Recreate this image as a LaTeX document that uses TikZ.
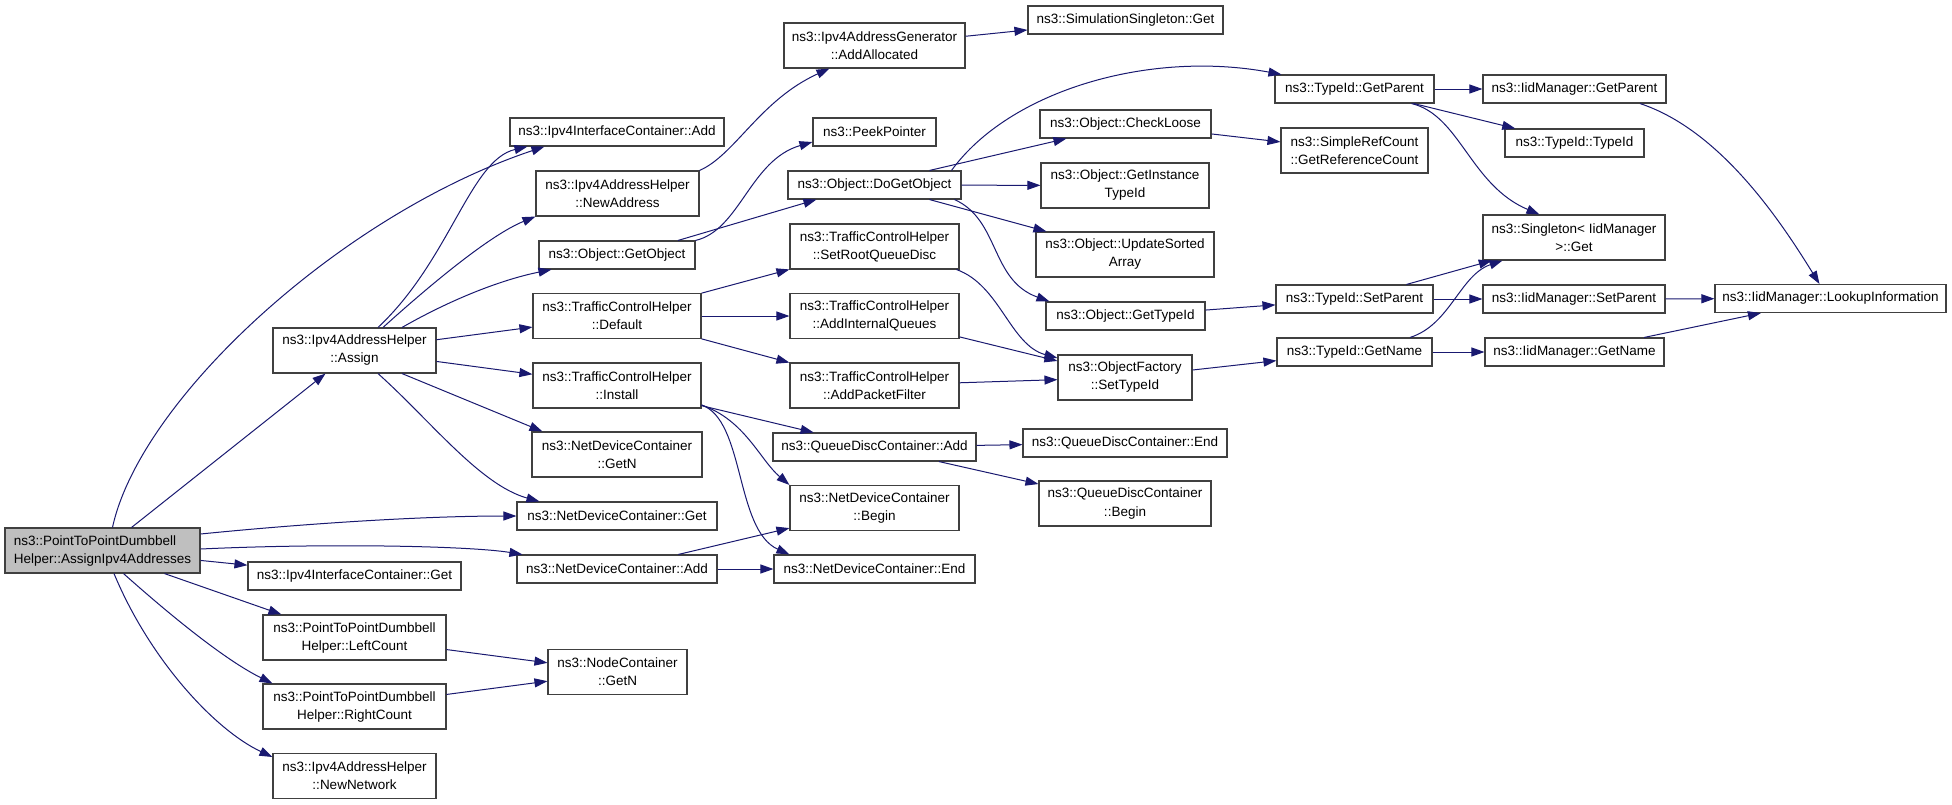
\documentclass[tikz,border=0pt]{standalone}
\usepackage{fontspec}
\setmainfont{Liberation Sans}
\usepackage{tikz}
\usetikzlibrary{arrows.meta}

\definecolor{navyedge}{HTML}{191970}
\definecolor{rootgray}{HTML}{BFBFBF}
\definecolor{boxline}{HTML}{404040}

\begin{document}
\begin{tikzpicture}[
    x=1pt, y=-1pt,
    fn/.style={rectangle, draw=boxline, line width=1.1pt, fill=white,
               inner sep=0pt, minimum height=28pt, align=center,
               font=\fontsize{13.5}{18}\selectfont},
    fn2/.style={fn, minimum height=45pt},
    rootfn/.style={fn2, fill=rootgray, align=left},
    call/.style={draw=navyedge, line width=1pt, -{Triangle[length=13pt,width=9pt]}}
]

\path[use as bounding box, fill=white] (0,0) rectangle (1952,804);

%% --- Radacina si apelurile directe ---
\node[rootfn, minimum width=195pt] (root)      at (102.5,550.5) {ns3::PointToPointDumbbell\\Helper::AssignIpv4Addresses};
\node[fn2, minimum width=163pt]    (assign)    at (354.5,350.5) {ns3::Ipv4AddressHelper\\::Assign};
\node[fn,  minimum width=213pt]    (iic_get)   at (354.5,576)   {ns3::Ipv4InterfaceContainer::Get};
\node[fn2, minimum width=183pt]    (left_cnt)  at (354.5,637.5) {ns3::PointToPointDumbbell\\Helper::LeftCount};
\node[fn2, minimum width=183pt]    (right_cnt) at (354.5,706.5) {ns3::PointToPointDumbbell\\Helper::RightCount};
\node[fn2, minimum width=163pt]    (new_net)   at (354.5,776)   {ns3::Ipv4AddressHelper\\::NewNetwork};

%% --- Coloana 3 ---
\node[fn,  minimum width=214pt] (iic_add)     at (617,132)   {ns3::Ipv4InterfaceContainer::Add};
\node[fn2, minimum width=163pt] (new_addr)    at (617.5,193.5) {ns3::Ipv4AddressHelper\\::NewAddress};
\node[fn,  minimum width=156pt] (get_obj)     at (617,255)   {ns3::Object::GetObject};
\node[fn2, minimum width=168pt] (tch_default) at (617,316)   {ns3::TrafficControlHelper\\::Default};
\node[fn2, minimum width=168pt] (tch_install) at (617,385.5) {ns3::TrafficControlHelper\\::Install};
\node[fn2, minimum width=170pt] (ndc_getn)    at (617,454.5) {ns3::NetDeviceContainer\\::GetN};
\node[fn,  minimum width=200pt] (ndc_get)     at (617,516)   {ns3::NetDeviceContainer::Get};
\node[fn,  minimum width=200pt] (ndc_add)     at (617,569)   {ns3::NetDeviceContainer::Add};
\node[fn2, minimum width=139pt] (node_getn)   at (617.5,672) {ns3::NodeContainer\\::GetN};

%% --- Coloana 4 ---
\node[fn2, minimum width=181pt] (add_alloc)  at (874.5,45.5)  {ns3::Ipv4AddressGenerator\\::AddAllocated};
\node[fn,  minimum width=123pt] (peek)       at (874.5,132)   {ns3::PeekPointer};
\node[fn,  minimum width=173pt] (do_get_obj) at (874.5,185)   {ns3::Object::DoGetObject};
\node[fn2, minimum width=169pt] (set_root)   at (874.5,246.5) {ns3::TrafficControlHelper\\::SetRootQueueDisc};
\node[fn2, minimum width=169pt] (add_intq)   at (874.5,316)   {ns3::TrafficControlHelper\\::AddInternalQueues};
\node[fn2, minimum width=169pt] (add_pktf)   at (874.5,385.5) {ns3::TrafficControlHelper\\::AddPacketFilter};
\node[fn,  minimum width=203pt] (qdc_add)    at (874.5,447)   {ns3::QueueDiscContainer::Add};
\node[fn2, minimum width=169pt] (ndc_begin)  at (874.5,508)   {ns3::NetDeviceContainer\\::Begin};
\node[fn,  minimum width=201pt] (ndc_end)    at (874.5,569)   {ns3::NetDeviceContainer::End};

%% --- Coloana 5 ---
\node[fn,  minimum width=195pt] (sim_get)      at (1125.5,20)  {ns3::SimulationSingleton::Get};
\node[fn,  minimum width=171pt] (check_loose)  at (1125.5,124) {ns3::Object::CheckLoose};
\node[fn2, minimum width=168pt] (get_inst_tid) at (1125,185.5) {ns3::Object::GetInstance\\TypeId};
\node[fn2, minimum width=178pt] (upd_sorted)   at (1125,254.5) {ns3::Object::UpdateSorted\\Array};
\node[fn,  minimum width=159pt] (obj_get_tid)  at (1125.5,316) {ns3::Object::GetTypeId};
\node[fn2, minimum width=134pt] (of_set_tid)   at (1125,377.5) {ns3::ObjectFactory\\::SetTypeId};
\node[fn,  minimum width=204pt] (qdc_end)      at (1125,443)   {ns3::QueueDiscContainer::End};
\node[fn2, minimum width=172pt] (qdc_begin)    at (1125,503.5) {ns3::QueueDiscContainer\\::Begin};

%% --- Coloana 6 ---
\node[fn,  minimum width=159pt] (tid_get_parent) at (1354.5,89)    {ns3::TypeId::GetParent};
\node[fn2, minimum width=147pt] (src_get_ref)    at (1354.5,150.5) {ns3::SimpleRefCount\\::GetReferenceCount};
\node[fn,  minimum width=157pt] (tid_set_parent) at (1354.5,299)   {ns3::TypeId::SetParent};
\node[fn,  minimum width=155pt] (tid_get_name)   at (1354.5,352)   {ns3::TypeId::GetName};

%% --- Coloana 7 si 8 ---
\node[fn,  minimum width=183pt] (iid_get_parent) at (1574.5,89)  {ns3::IidManager::GetParent};
\node[fn,  minimum width=139pt] (tid_typeid)     at (1574.5,143) {ns3::TypeId::TypeId};
\node[fn2, minimum width=182pt] (singleton_get)  at (1574,237.5) {ns3::Singleton< IidManager\\>::Get};
\node[fn,  minimum width=182pt] (iid_set_parent) at (1574,299)   {ns3::IidManager::SetParent};
\node[fn,  minimum width=179pt] (iid_get_name)   at (1574.5,352) {ns3::IidManager::GetName};
\node[fn,  minimum width=231pt] (lookup)         at (1830.5,298.5) {ns3::IidManager::LookupInformation};

%% --- Apeluri din radacina ---
\draw[call] ([xshift=10pt]root.north) .. controls (140,400) and (340,215) .. ([xshift=35pt]iic_add.south west);
\draw[call] (root) -- (assign);
\draw[call] ([yshift=16.5pt]root.east) .. controls (300,524) and (420,516) .. (ndc_get.west);
\draw[call] ([yshift=1.5pt]root.east) .. controls (330,543) and (470,546) .. ([xshift=6pt]ndc_add.north west);
\draw[call] (root) -- (iic_get);
\draw[call] ([xshift=62pt]root.south) -- ([xshift=19pt]left_cnt.north west);
\draw[call] ([xshift=21pt]root.south) .. controls (170,615) and (225,660) .. ([xshift=10pt]right_cnt.north west);
\draw[call] ([xshift=11.5pt]root.south) .. controls (150,660) and (215,730) .. ([yshift=19pt]new_net.west);

%% --- Apeluri din Assign ---
\draw[call] ([xshift=23.5pt]assign.north) .. controls (450,260) and (470,160) .. ([xshift=18pt]iic_add.south west);
\draw[call] ([xshift=28.5pt]assign.north) .. controls (430,285) and (490,235) .. (new_addr.south west);
\draw[call] ([xshift=47.5pt]assign.north) .. controls (450,300) and (500,280) .. ([xshift=13pt]get_obj.south west);
\draw[call] (assign) -- (tch_default);
\draw[call] (assign) -- (tch_install);
\draw[call] ([xshift=47.5pt]assign.south) -- ([xshift=11pt]ndc_getn.north west);
\draw[call] ([xshift=23.5pt]assign.south) .. controls (430,420) and (480,485) .. ([xshift=23pt]ndc_get.north west);

%% --- Coloana 3 -> 4 ---
\draw[call] (new_addr.north east) .. controls (735,155) and (760,100) .. ([xshift=46pt]add_alloc.south west);
\draw[call] (add_alloc) -- (sim_get);
\draw[call] (get_obj.north east) .. controls (740,230) and (750,160) .. ([yshift=-10pt]peek.west);
\draw[call] ([xshift=61pt]get_obj.north) -- ([xshift=29pt]do_get_obj.south west);
\draw[call] (tch_default) -- (set_root);
\draw[call] (tch_default) -- (add_intq);
\draw[call] (tch_default) -- (add_pktf);
\draw[call] (tch_install) -- (qdc_add);
\draw[call] ([yshift=-19.5pt]tch_install.east) .. controls (745,420) and (760,460) .. (ndc_begin.north west);
\draw[call] ([yshift=-19.5pt]tch_install.east) .. controls (745,420) and (735,530) .. ([xshift=16pt]ndc_end.north west);
\draw[call] (ndc_add) -- (ndc_begin);
\draw[call] (ndc_add) -- (ndc_end);
\draw[call] (left_cnt) -- (node_getn);
\draw[call] (right_cnt) -- (node_getn);

%% --- Coloana 4 -> 5 ---
\draw[call] ([xshift=77pt]do_get_obj.north) .. controls (1010,90) and (1150,50) .. ([xshift=7pt]tid_get_parent.north west);
\draw[call] ([xshift=55pt]do_get_obj.north) -- ([xshift=27pt]check_loose.south west);
\draw[call] (do_get_obj) -- (get_inst_tid);
\draw[call] ([xshift=55pt]do_get_obj.south) -- ([xshift=11pt]upd_sorted.north west);
\draw[call] ([xshift=80pt]do_get_obj.south) .. controls (1000,220) and (990,280) .. ([xshift=4pt]obj_get_tid.north west);
\draw[call] ([xshift=82pt]set_root.south) .. controls (1000,285) and (1010,345) .. ([yshift=19.5pt]of_set_tid.west);
\draw[call] (add_intq) -- (of_set_tid);
\draw[call] (add_pktf) -- (of_set_tid);
\draw[call] (qdc_add) -- (qdc_end);
\draw[call] (qdc_add) -- (qdc_begin);

%% --- Coloana 5 -> 6 ---
\draw[call] (check_loose) -- (src_get_ref);
\draw[call] (obj_get_tid) -- (tid_set_parent);
\draw[call] (of_set_tid) -- (tid_get_name);

%% --- Coloana 6 -> 7 -> 8 ---
\draw[call] (tid_get_parent) -- (iid_get_parent);
\draw[call] (tid_get_parent) -- (tid_typeid);
\draw[call] ([xshift=57pt]tid_get_parent.south) .. controls (1460,115) and (1470,185) .. ([xshift=57pt]singleton_get.north west);
\draw[call] (tid_set_parent) -- (singleton_get);
\draw[call] (tid_set_parent) -- (iid_set_parent);
\draw[call] ([xshift=55.5pt]tid_get_name.north) .. controls (1450,325) and (1460,275) .. ([xshift=20pt]singleton_get.south west);
\draw[call] (tid_get_name) -- (iid_get_name);
\draw[call] ([xshift=65.5pt]iid_get_parent.south) .. controls (1720,130) and (1780,220) .. ([xshift=105pt]lookup.north west);
\draw[call] (iid_set_parent) -- (lookup);
\draw[call] (iid_get_name) -- (lookup);

\end{tikzpicture}
\end{document}
